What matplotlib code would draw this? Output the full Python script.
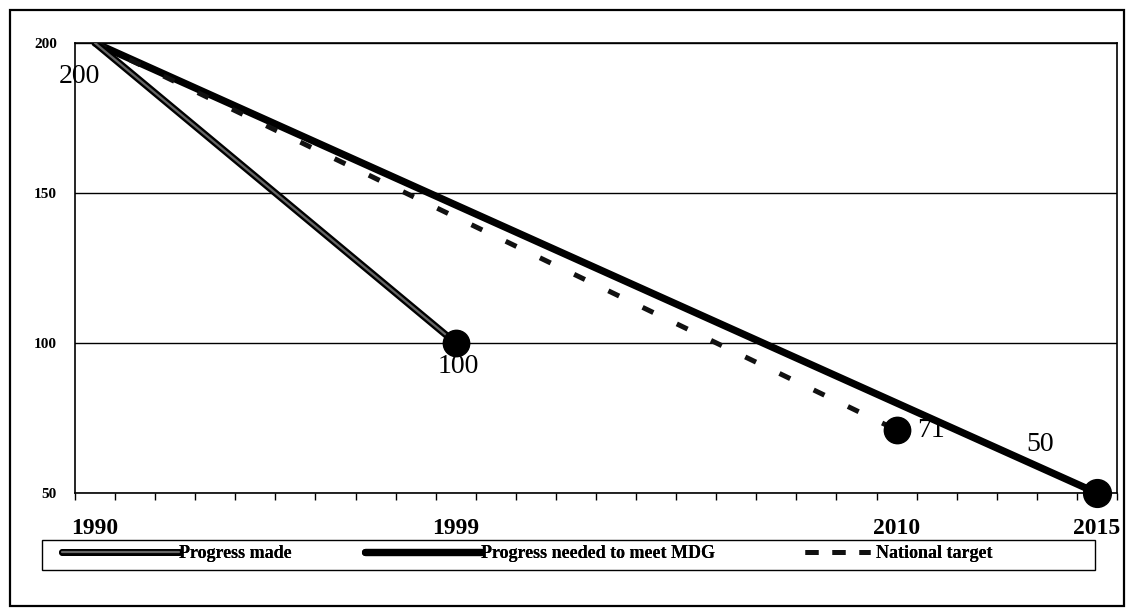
import matplotlib
matplotlib.use("Agg")
import matplotlib.pyplot as plt
import matplotlib.patheffects as pe
from matplotlib.patches import Rectangle
from matplotlib.lines import Line2D
import numpy as np

plt.rcParams.update({
    "font.family": ["Liberation Serif", "DejaVu Serif"],
    "font.size": 11,
})

# ── data ────────────────────────────────────────────────────────────────────
made_years = [1990, 1999]
made_vals = [200, 100]
mdg_years = [1990, 2015]
mdg_vals = [200, 50]
nat_years = [1990, 2010]
nat_vals = [200, 71]

year_labels = [1990, 1999, 2010, 2015]
y_ticks = [50, 100, 150, 200]

W, H = 1129, 614
fig = plt.figure(figsize=(W / 100, H / 100), dpi=100)
ax = fig.add_axes([75 / W, 1 - 493 / H, (1117 - 75) / W, (493 - 43) / H])

# Progress made: grey core with black outline
l_made, = ax.plot(made_years, made_vals, color="#666666", lw=1.6,
                  solid_capstyle="round",
                  path_effects=[pe.Stroke(linewidth=5.0, foreground="black"),
                                pe.Normal()],
                  label="Progress made", zorder=4)
ax.plot(made_years[-1:], made_vals[-1:], "o", color="black", ms=19, zorder=5,
        clip_on=False)

# Progress needed to meet MDG
l_mdg, = ax.plot(mdg_years, mdg_vals, color="black", lw=5.2,
                 solid_capstyle="round",
                 label="Progress needed to meet MDG", zorder=3)
ax.plot(mdg_years[-1:], mdg_vals[-1:], "o", color="black", ms=20, zorder=5,
        clip_on=False)

# National target
ax.plot(nat_years, nat_vals, color="#111111", lw=3.6,
        linestyle=(0, (2.4, 5.2)), dash_capstyle="butt",
        label="National target", zorder=3)
ax.plot(nat_years[-1:], nat_vals[-1:], "o", color="black", ms=19, zorder=5,
        clip_on=False)
# legend sample uses a tighter dash, like the original key
l_nat = Line2D([], [], color="#111111", lw=3.6, linestyle=(0, (2.6, 2.8)),
               dash_capstyle="butt", label="National target")

# data labels
lab_kw = dict(textcoords="offset points", fontsize=20, va="center", ha="center")
ax.annotate(f"{made_vals[0]}", (made_years[0], made_vals[0]), xytext=(-11, -24), **lab_kw)
ax.annotate(f"{made_vals[-1]}", (made_years[-1], made_vals[-1]), xytext=(2, -17), **lab_kw)
ax.annotate(f"{nat_vals[-1]}", (nat_years[-1], nat_vals[-1]), xytext=(25, 0), **lab_kw)
ax.annotate(f"{mdg_vals[-1]}", (mdg_years[-1], mdg_vals[-1]), xytext=(-41, 35), **lab_kw)

ax.set_xlim(1989.5, 2015.5)
ax.set_ylim(50, 200)
ax.set_yticks(y_ticks)
ax.set_yticklabels([str(v) for v in y_ticks], fontweight="bold", fontsize=11)
ax.tick_params(axis="y", length=0, pad=13)
ax.set_xticks(year_labels)
ax.set_xticklabels([str(v) for v in year_labels], fontweight="bold", fontsize=17)
ax.set_xticks(np.arange(1989.5, 2016, 1.0), minor=True)
ax.tick_params(axis="x", which="major", length=0, pad=18)
ax.tick_params(axis="x", which="minor", length=5, direction="out", width=1)
ax.grid(axis="y", color="black", lw=1.0, zorder=1)
for s in ax.spines.values():
    s.set_linewidth(1.2)
    s.set_color("black")

# legend: frame drawn by hand, one entry per block at its own place
fig.patches.append(Rectangle((42 / W, 1 - 570 / H), (1095 - 42) / W, 30 / H,
                             transform=fig.transFigure, fill=False,
                             edgecolor="black", lw=1.0))
entries = [(l_made, 62, 6.5, 0.0), (l_mdg, 365, 6.4, 0.0), (l_nat, 805, 3.6, 0.35)]
for handle, x0, hl, tp in entries:
    lg = fig.legend([handle], [handle.get_label()], loc="center left",
                    bbox_to_anchor=(x0 / W, 1 - 554 / H), frameon=False,
                    borderpad=0, borderaxespad=0, handlelength=hl,
                    handletextpad=tp, prop={"weight": "bold", "size": 13})
    fig.add_artist(lg)

# outer frame
fig.patches.append(Rectangle((10 / W, 1 - 606 / H), (1124 - 10) / W, (606 - 10) / H,
                             transform=fig.transFigure, fill=False,
                             edgecolor="black", lw=1.6))

fig.savefig("out.png", dpi=100)
